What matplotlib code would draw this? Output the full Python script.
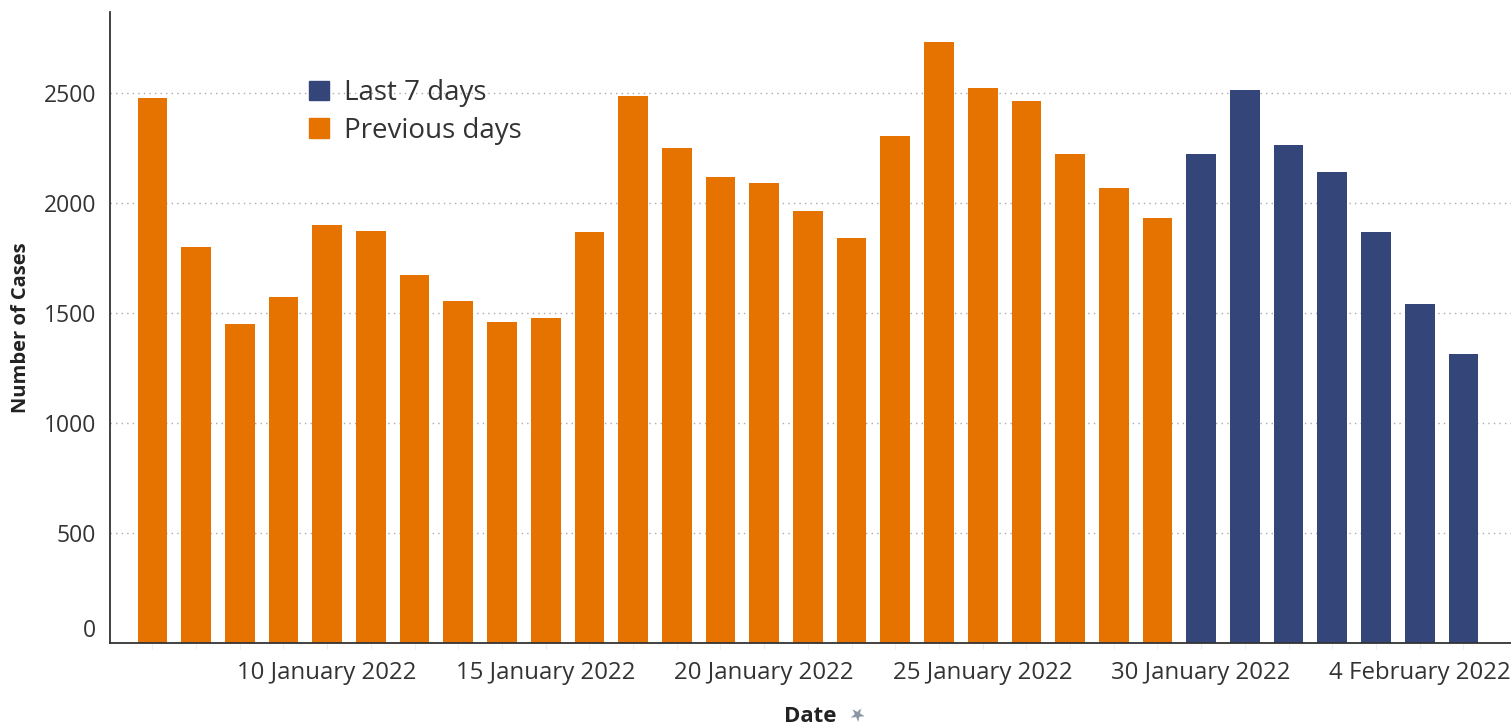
import numpy as np
import matplotlib.pyplot as plt
from matplotlib.patches import Patch

# daily cases, 6 January 2022 .. 5 February 2022
dates = ['6 January 2022', '7 January 2022', '8 January 2022', '9 January 2022',
         '10 January 2022', '11 January 2022', '12 January 2022', '13 January 2022',
         '14 January 2022', '15 January 2022', '16 January 2022', '17 January 2022',
         '18 January 2022', '19 January 2022', '20 January 2022', '21 January 2022',
         '22 January 2022', '23 January 2022', '24 January 2022', '25 January 2022',
         '26 January 2022', '27 January 2022', '28 January 2022', '29 January 2022',
         '30 January 2022', '31 January 2022', '1 February 2022', '2 February 2022',
         '3 February 2022', '4 February 2022', '5 February 2022']
cases = [2476, 1800, 1450, 1573, 1900, 1873, 1673, 1555, 1459, 1477, 1868, 2486,
         2250, 2118, 2091, 1964, 1841, 2305, 2732, 2523, 2464, 2223, 2068, 1932,
         2223, 2514, 2264, 2141, 1868, 1541, 1314]
last7 = [False] * 24 + [True] * 7
label_every = 5
label_start = 4
yticks = [0, 500, 1000, 1500, 2000, 2500]

orange = '#E67300'
blue = '#34457A'

plt.rcParams['font.family'] = ['Open Sans', 'DejaVu Sans']

fig = plt.figure(figsize=(15.11, 7.28), dpi=100)
ax = fig.add_axes([110 / 1511, 1 - 643 / 728, 1401 / 1511, 631 / 728])

x = np.arange(len(cases))
colors = [blue if l else orange for l in last7]
ax.bar(x, cases, width=0.68, color=colors, zorder=2)

ax.set_xlim(-0.97, 31.09)
ax.set_ylim(0, 2868)

ax.set_yticks(yticks)
ax.set_yticklabels([str(v) for v in yticks])
for lab in ax.get_yticklabels():
    lab.set_color('#333333')
    lab.set_fontsize(16.5)
ax.get_yticklabels()[0].set_va('bottom')
ax.tick_params(axis='y', length=0, pad=10)

ticks = x[label_start::label_every]
ax.set_xticks(x, minor=True)
ax.set_xticks(ticks)
ax.set_xticklabels([dates[i] for i in ticks], fontsize=17.3, color='#333333')
ax.tick_params(axis='x', which='both', length=4, color='#ececec', pad=9)

ax.grid(axis='y', linestyle=(0, (1, 3)), color='#aaaaaa', linewidth=1, zorder=0)
for s in ['top', 'right']:
    ax.spines[s].set_visible(False)
for s in ['left', 'bottom']:
    ax.spines[s].set_color('#333333')
    ax.spines[s].set_linewidth(1.3)

ax.set_ylabel('Number of Cases', fontsize=14.5, fontweight='bold', color='#222222')
ax.yaxis.set_label_coords(-79 / 1401, 0.5)
ax.set_xlabel('Date', fontsize=16, fontweight='bold', color='#222222', va='center')
ax.xaxis.set_label_coords((810 - 110) / 1401, -73 / 631)
fig.text(856 / 1511, 1 - 716 / 728, '\u2605', fontsize=13, color='#8a95a3',
         ha='center', va='center', rotation=-30, family='DejaVu Sans')

handles = [Patch(color=blue, label='Last 7 days'), Patch(color=orange, label='Previous days')]
ax.legend(handles=handles, loc='upper left', bbox_to_anchor=(0.124, 0.933),
          frameon=False, fontsize=20, handlelength=0.72, handleheight=0.72,
          handletextpad=0.55, labelspacing=0.35, labelcolor='#333333')

fig.savefig('out.png', dpi=100)
